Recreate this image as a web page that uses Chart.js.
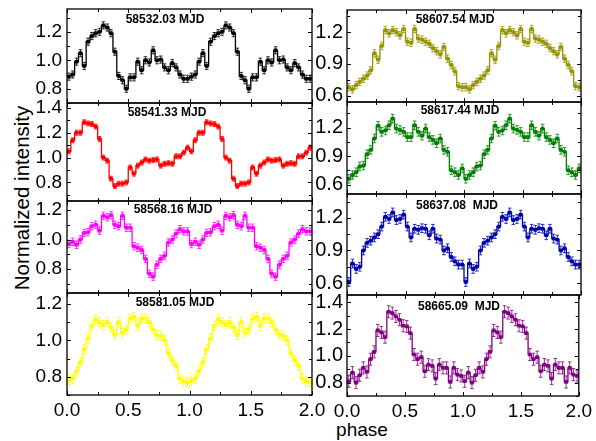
<!DOCTYPE html>
<html>
<head>
<meta charset="utf-8">
<script src="https://cdn.jsdelivr.net/npm/chart.js@4.4.1/dist/chart.umd.min.js"></script>
<style>
  body { margin: 0; background: #fff; }
  #wrap { position: relative; width: 596px; height: 441px; overflow: hidden; font-family: "Liberation Sans", Arial, sans-serif; color: #000; }
  #wrap canvas { position: absolute; }
  .ylab { position: absolute; left: 22px; top: 198px; transform: translate(-50%, -50%) rotate(-90deg); font-size: 20.5px; white-space: nowrap; }
  .xlab { position: absolute; left: 362px; top: 430px; transform: translate(-50%, -50%); font-size: 19px; }
</style>
</head>
<body>
<div id="wrap">
  <div class="ylab">Normalized intensity</div>
  <div class="xlab">phase</div>
</div>
<script>
// Profils (32 bins par tour, tracés deux fois : phase 0-1 et 1-2)
const nBins = 32;
const xTicks = [0.0, 0.5, 1.0, 1.5, 2.0];

const p58532 = [0.885, 0.90, 0.99, 1.05, 0.96, 1.13, 1.17, 1.19, 1.20, 1.245, 1.23, 1.19, 1.06, 0.89, 0.86, 0.80,
                0.88, 0.88, 0.99, 0.93, 1.00, 0.985, 1.07, 1.00, 1.005, 0.95, 0.93, 0.98, 0.95, 0.90, 0.87, 0.87];
const p58541 = [1.05, 1.14, 1.20, 1.20, 1.285, 1.275, 1.27, 1.25, 1.15, 1.00, 0.975, 0.83, 0.77, 0.79, 0.79, 0.80,
                0.92, 0.87, 0.935, 0.96, 0.985, 0.975, 0.98, 0.985, 0.935, 0.95, 0.955, 0.95, 1.01, 1.01, 1.04, 1.08];
const p58568 = [0.97, 0.985, 0.965, 1.00, 1.045, 1.05, 1.09, 1.10, 1.06, 1.16, 1.15, 1.165, 1.10, 1.09, 1.16, 1.08,
                1.08, 0.955, 0.945, 0.93, 0.87, 0.77, 0.75, 0.83, 0.87, 0.89, 0.98, 1.00, 1.04, 1.07, 1.055, 1.055];
const p58581 = [0.78, 0.79, 0.83, 0.88, 0.95, 1.01, 1.08, 1.115, 1.10, 1.085, 1.10, 1.07, 1.03, 1.10, 1.04, 1.06,
                1.12, 1.13, 1.08, 1.12, 1.12, 1.10, 1.06, 1.03, 1.025, 1.00, 0.93, 0.89, 0.86, 0.79, 0.775, 0.77];
const p58607 = [0.68, 0.66, 0.70, 0.73, 0.76, 0.79, 0.84, 1.00, 0.94, 1.07, 1.22, 1.19, 1.22, 1.20, 1.17, 1.23,
                1.11, 1.10, 1.23, 1.14, 1.13, 1.11, 1.09, 1.05, 1.02, 0.99, 1.06, 0.95, 0.89, 0.83, 0.69, 0.68];
const p58617 = [0.66, 0.70, 0.73, 0.79, 0.80, 0.92, 0.965, 1.085, 1.22, 1.155, 1.17, 1.225, 1.295, 1.19, 1.175, 1.155,
                1.10, 1.10, 1.225, 1.155, 1.115, 1.19, 1.10, 1.07, 1.035, 1.085, 0.965, 0.945, 0.75, 0.73, 0.70, 0.77];
const p58637 = [0.61, 0.78, 0.73, 0.75, 0.90, 0.97, 0.99, 1.02, 1.05, 1.12, 1.21, 1.19, 1.25, 1.18, 1.19, 1.23,
                1.12, 1.02, 1.10, 1.09, 1.105, 1.10, 1.04, 1.10, 1.01, 1.00, 0.90, 0.92, 0.84, 0.80, 0.77, 0.77];
const p58665 = [0.81, 0.875, 0.80, 0.855, 0.91, 0.88, 0.975, 1.03, 1.19, 1.175, 1.14, 1.33, 1.32, 1.295, 1.27, 1.225,
                1.22, 1.17, 1.01, 0.975, 0.99, 0.885, 0.935, 0.925, 0.83, 0.935, 0.91, 0.91, 0.805, 0.91, 0.86, 0.85];

const labels = ['58532.03 MJD', '58541.33 MJD', '58568.16 MJD', '58581.05 MJD',
                '58607.54 MJD', '58617.44 MJD', '58637.08  MJD', '58665.09  MJD'];
const profiles = [p58532, p58541, p58568, p58581, p58607, p58617, p58637, p58665];
const errors = [0.025, 0.02, 0.025, 0.025, 0.035, 0.045, 0.04, 0.045];
const colors = ['#000000', '#ff0000', '#ff00ff', '#ffff00', '#959500', '#008000', '#0000a8', '#800080'];
const yRanges = [[0.70, 1.36], [0.65, 1.44], [0.64, 1.26], [0.70, 1.26],
                 [0.54, 1.41], [0.50, 1.47], [0.49, 1.42], [0.70, 1.455]];
const yTickSets = [[0.8, 1.0, 1.2], [0.8, 1.0, 1.2, 1.4], [0.8, 1.0, 1.2], [0.8, 1.0, 1.2],
                   [0.6, 0.9, 1.2], [0.6, 0.9, 1.2], [0.6, 0.9, 1.2], [0.8, 1.0, 1.2, 1.4]];

// mise en page
const PAD = 24;
const cols = [{ left: 0, width: 330, padR: 18, tickPad: 5, yFont: 19 }, { left: 280, width: 316, padR: 15, tickPad: 4, yFont: 20 }];
const rowEdges = [[9, 103, 201, 293, 395], [10, 102, 194, 295, 396]];
const labelPos = [[165, 11], [167, 10], [173, 9], [175, 10], [455, 10], [460, 9], [457, 12], [459, 12]];
const FONT = '"Liberation Sans", Arial, sans-serif';

// barres d'erreur, cadre, graduations internes, étiquette
const panelDeco = {
    id: 'panelDeco',
    beforeDatasetsDraw(chart, args, o) {
        const { ctx, chartArea: a, scales: { y } } = chart;
        const pts = chart.getDatasetMeta(0).data;
        const data = chart.data.datasets[0].data;
        ctx.save();
        ctx.beginPath(); ctx.rect(a.left, a.top, a.right - a.left, a.bottom - a.top); ctx.clip();
        ctx.strokeStyle = o.color; ctx.globalAlpha = 0.8; ctx.lineWidth = 1;
        ctx.beginPath();
        pts.forEach((pt, j) => {
            const y1 = y.getPixelForValue(data[j].y + o.err), y2 = y.getPixelForValue(data[j].y - o.err);
            ctx.moveTo(pt.x, y1); ctx.lineTo(pt.x, y2);
            ctx.moveTo(pt.x - 1.8, y1); ctx.lineTo(pt.x + 1.8, y1);
            ctx.moveTo(pt.x - 1.8, y2); ctx.lineTo(pt.x + 1.8, y2);
        });
        ctx.stroke();
        ctx.restore();
    },
    afterDraw(chart, args, o) {
        const { ctx, chartArea: a, scales: { x, y } } = chart;
        ctx.save();
        ctx.strokeStyle = '#000'; ctx.lineWidth = 1;
        ctx.beginPath();
        // x : majeures + mineures
        for (let i = 0; i < xTicks.length; i++) {
            const vals = [[xTicks[i], 4]];
            if (i < xTicks.length - 1) vals.push([(xTicks[i] + xTicks[i + 1]) / 2, 3]);
            vals.forEach(([v, len]) => {
                const px = Math.round(x.getPixelForValue(v)) + 0.5;
                ctx.moveTo(px, a.bottom); ctx.lineTo(px, a.bottom - len);
                ctx.moveTo(px, a.top); ctx.lineTo(px, a.top + len);
            });
        }
        // y
        const t = o.ticks, step = t[1] - t[0];
        for (let k = -4; k <= 2 * t.length + 4; k++) {
            const v = t[0] + k * step / 2;
            if (v <= y.min || v >= y.max) continue;
            const len = k % 2 === 0 ? 4 : 3;
            const py = Math.round(y.getPixelForValue(v)) + 0.5;
            ctx.moveTo(a.left, py); ctx.lineTo(a.left + len, py);
            ctx.moveTo(a.right, py); ctx.lineTo(a.right - len, py);
        }
        ctx.stroke();
        ctx.lineWidth = 1.3;
        ctx.strokeRect(a.left, a.top, a.right - a.left, a.bottom - a.top);
        ctx.fillStyle = '#000';
        ctx.font = 'bold 12px ' + FONT;
        ctx.textAlign = 'center'; ctx.textBaseline = 'middle';
        ctx.fillText(o.label, o.lx, a.top + o.ly);
        ctx.restore();
    }
};

const wrap = document.getElementById('wrap');
profiles.forEach((prof, i) => {
    const c = i < 4 ? 0 : 1, row = i % 4;
    const col = cols[c];
    const top = rowEdges[c][row], bottom = rowEdges[c][row + 1];
    const isBottom = row === 3;
    const h = PAD + (bottom - top) + (isBottom ? 30 : PAD);

    const cv = document.createElement('canvas');
    cv.width = col.width; cv.height = h;
    cv.style.left = col.left + 'px'; cv.style.top = (top - PAD) + 'px';
    cv.style.width = col.width + 'px'; cv.style.height = h + 'px';
    wrap.appendChild(cv);

    const pts = [];
    for (let k = 0; k < 2; k++) {
        prof.forEach((v, j) => pts.push({ x: k + (j + 0.5) / nBins, y: v }));
    }

    const xScale = {
        type: 'linear', min: 0, max: 2, display: isBottom,
        afterBuildTicks: s => { s.ticks = xTicks.map(v => ({ value: v })); },
        grid: { display: false, drawTicks: false }, border: { display: false },
        ticks: { color: '#000', font: { size: 19, family: FONT }, padding: 4, maxRotation: 0, autoSkip: false,
                 callback: v => v.toFixed(1) }
    };
    if (isBottom) xScale.afterFit = s => { s.height = 30; };

    new Chart(cv, {
        type: 'line',
        data: {
            datasets: [{
                data: pts,
                borderColor: colors[i],
                backgroundColor: colors[i],
                borderWidth: 1.3,
                stepped: 'middle',
                pointStyle: 'rect',
                pointRadius: 2.6,
                pointBorderWidth: 0,
                fill: false
            }]
        },
        options: {
            responsive: false, animation: false, devicePixelRatio: 1,
            layout: { padding: { top: PAD, bottom: isBottom ? 0 : PAD, left: 0, right: col.padR } },
            plugins: {
                legend: { display: false }, tooltip: { enabled: false },
                panelDeco: { color: colors[i], err: errors[i], ticks: yTickSets[i], label: labels[i],
                             lx: labelPos[i][0] - col.left, ly: labelPos[i][1] }
            },
            scales: {
                x: xScale,
                y: {
                    min: yRanges[i][0], max: yRanges[i][1],
                    afterBuildTicks: s => { s.ticks = yTickSets[i].map(v => ({ value: v })); },
                    afterFit: s => { s.width = 67; },
                    grid: { display: false, drawTicks: false }, border: { display: false },
                    ticks: { color: '#000', font: { size: col.yFont, family: FONT }, padding: col.tickPad,
                             callback: v => v.toFixed(1) }
                }
            }
        },
        plugins: [panelDeco]
    });
});
</script>
</body>
</html>
